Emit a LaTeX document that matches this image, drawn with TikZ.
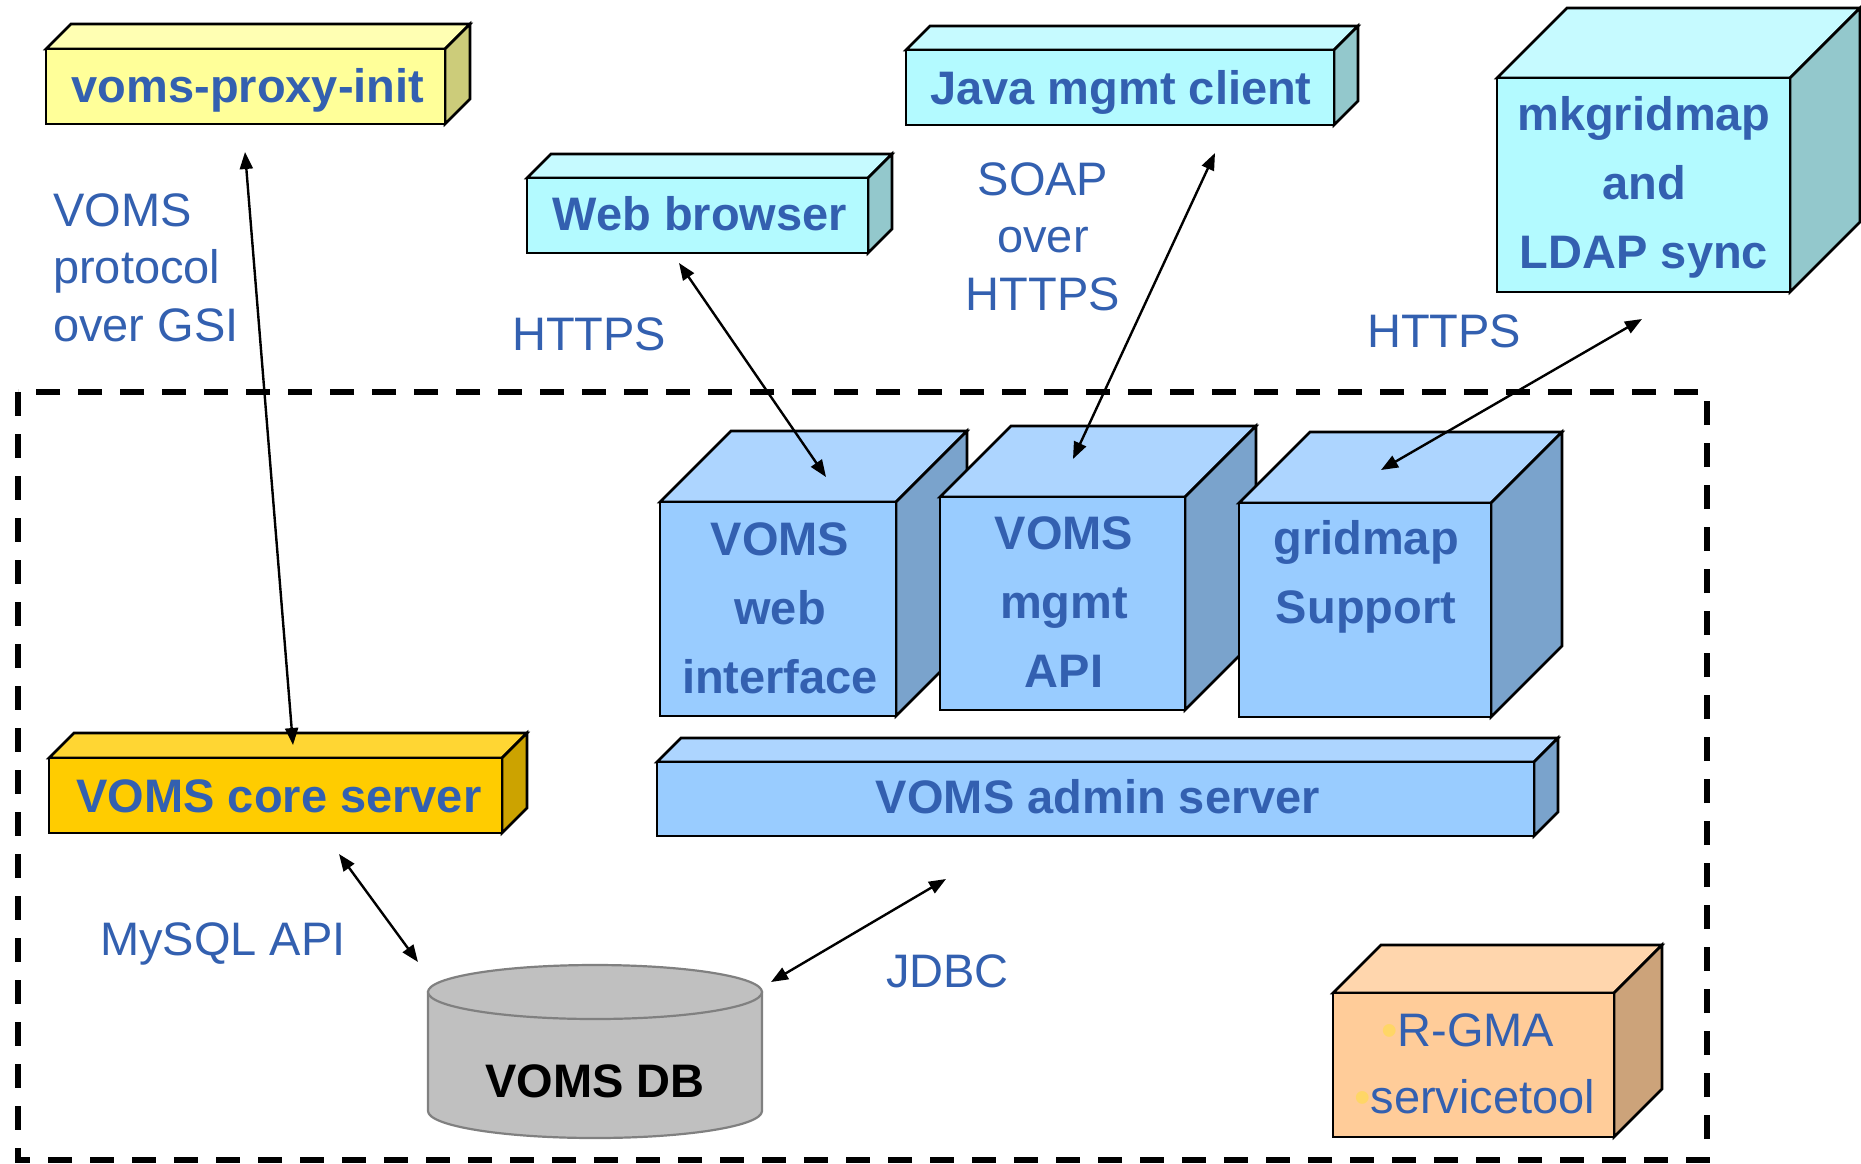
\documentclass[tikz,border=0pt]{standalone}
\usepackage{fontspec}
\setmainfont{Liberation Sans}
\usetikzlibrary{arrows.meta,fit}
\definecolor{txtblue}{RGB}{51,96,176}
\definecolor{bullc}{RGB}{255,214,102}
\definecolor{yeltop}{HTML}{FFFFB3}\definecolor{yelfront}{HTML}{FFFF99}\definecolor{yelside}{HTML}{CCCC7A}
\definecolor{cyntop}{HTML}{C6FAFF}\definecolor{cynfront}{HTML}{B3FAFF}\definecolor{cynside}{HTML}{93C8CC}
\definecolor{blutop}{HTML}{ADD5FF}\definecolor{blufront}{HTML}{99CCFF}\definecolor{bluside}{HTML}{7AA3CC}
\definecolor{gldtop}{HTML}{FFD633}\definecolor{gldfront}{HTML}{FFCC00}\definecolor{gldside}{HTML}{CCA300}
\definecolor{orgtop}{HTML}{FFD6AD}\definecolor{orgfront}{HTML}{FFCC99}\definecolor{orgside}{HTML}{CCA37A}
\definecolor{dbfill}{HTML}{C0C0C0}\definecolor{dbline}{HTML}{808080}
\tikzset{
  boxline/.style={draw=black,line width=2.6pt,line join=miter},
  boxtext/.style={font=\fontsize{47}{69}\selectfont\bfseries,text=txtblue,align=center,anchor=base,inner sep=0pt},
  lbl/.style={font=\fontsize{47}{57.5}\selectfont,text=txtblue,inner sep=0pt},
  conn/.style={line width=2.4pt,{Triangle[length=17pt,width=13pt]}-{Triangle[length=17pt,width=13pt]}},
  frame/.style={line width=5.5pt,dash pattern=on 24pt off 18pt}
}
\newcommand\drawcube[7]{%
  \filldraw[fill=#7top,boxline] (#2,#3) -- ++(#6,-#6) -- (#4+#6,#3-#6) -- (#4,#3) -- cycle;
  \filldraw[fill=#7side,boxline] (#4,#3) -- (#4+#6,#3-#6) -- (#4+#6,#5-#6) -- (#4,#5) -- cycle;
  \node[fit={(#2,#3) (#4,#5)},inner sep=0pt,outer sep=0pt,fill=#7front,boxline] (#1) {};
}
\begin{document}
\begin{tikzpicture}[x=1pt,y=-1pt]
\fill[white] (0,0) rectangle (1861,1163);
\useasboundingbox (0,0) rectangle (1861,1163);
% dashed frame
\draw[frame] (18,392) rectangle (1707,1160);
% boxes
\drawcube{vpi}{46}{49}{445}{124}{25}{yel}
\drawcube{web}{527}{178}{868}{253}{24}{cyn}
\drawcube{java}{906}{50}{1334}{125}{24}{cyn}
\drawcube{mkg}{1497}{78}{1790}{292}{70}{cyn}
\drawcube{vwi}{660}{502}{896}{716}{71}{blu}
\drawcube{vma}{940}{497}{1185}{710}{71}{blu}
\drawcube{gms}{1239}{503}{1491}{717}{71}{blu}
\drawcube{vas}{657}{762}{1534}{836}{24}{blu}
\drawcube{vcs}{49}{758}{502}{833}{25}{gld}
\drawcube{rgma}{1333}{993}{1614}{1137}{48}{org}
% database cylinder
\filldraw[fill=dbfill,draw=dbline,line width=2.2pt] (428,992) -- (428,1111)
  .. controls (428,1125.9) and (502.8,1138) .. (595,1138)
  .. controls (687.2,1138) and (762,1125.9) .. (762,1111) -- (762,992) -- cycle;
\filldraw[fill=dbfill,draw=dbline,line width=2.2pt] (595,992) ellipse [x radius=167pt,y radius=27pt];
% box texts (base anchor = baseline of last line)
\node[boxtext] (vpi-t) at (248,102) {voms-proxy-init};
\node[boxtext] (web-t) at (700,230) {Web browser};
\node[boxtext] (java-t) at (1121,104) {Java mgmt client};
\node[boxtext] (mkg-t) at (1644,268) {mkgridmap\\and\\LDAP sync};
\node[boxtext] (vwi-t) at (780,693) {VOMS\\web\\interface};
\node[boxtext] (vma-t) at (1064,687) {VOMS\\mgmt\\API};
\node[boxtext] (gms-t) at (1366,623) {gridmap\\Support};
\node[boxtext] (vas-t) at (1098,813) {VOMS admin server};
\node[boxtext] (vcs-t) at (279,812) {VOMS core server};
\node[boxtext,text=black] (db-t) at (595,1097) {VOMS DB};
\node[lbl,anchor=base west] (rg1) at (1381,1046) {\textcolor{bullc}{•}R-GMA};
\node[lbl,anchor=base west] (rg2) at (1354,1113) {\textcolor{bullc}{•}servicetool};
% labels
\node[lbl,anchor=base west,align=left] (l-gsi) at (53,341) {VOMS\\protocol\\over GSI};
\node[lbl,anchor=base west] (l-https1) at (512,350) {HTTPS};
\node[lbl,anchor=base,align=center] (l-soap) at (1043,310) {SOAP\\over\\HTTPS};
\node[lbl,anchor=base west] (l-https2) at (1367,347) {HTTPS};
\node[lbl,anchor=base west] (l-mysql) at (100,955) {MySQL API};
\node[lbl,anchor=base west] (l-jdbc) at (886,987) {JDBC};
% connector ends
\coordinate (vpi-port) at (245,152);
\coordinate (vcs-top) at (293,745);
\coordinate (web-port) at (679,263);
\coordinate (vwi-top) at (826,477);
\coordinate (java-port) at (1215,153);
\coordinate (vma-top) at (1073,459);
\coordinate (mkg-port) at (1642,319);
\coordinate (gms-top) at (1381,470);
\coordinate (vcs-bot) at (339,854);
\coordinate (db-left) at (418,962);
\coordinate (vas-bot) at (946,879);
\coordinate (db-right) at (771,982);
% connectors
\draw[conn] (vpi-port) -- (vcs-top);
\draw[conn] (web-port) -- (vwi-top);
\draw[conn] (java-port) -- (vma-top);
\draw[conn] (mkg-port) -- (gms-top);
\draw[conn] (vcs-bot) -- (db-left);
\draw[conn] (vas-bot) -- (db-right);
\end{tikzpicture}
\end{document}
